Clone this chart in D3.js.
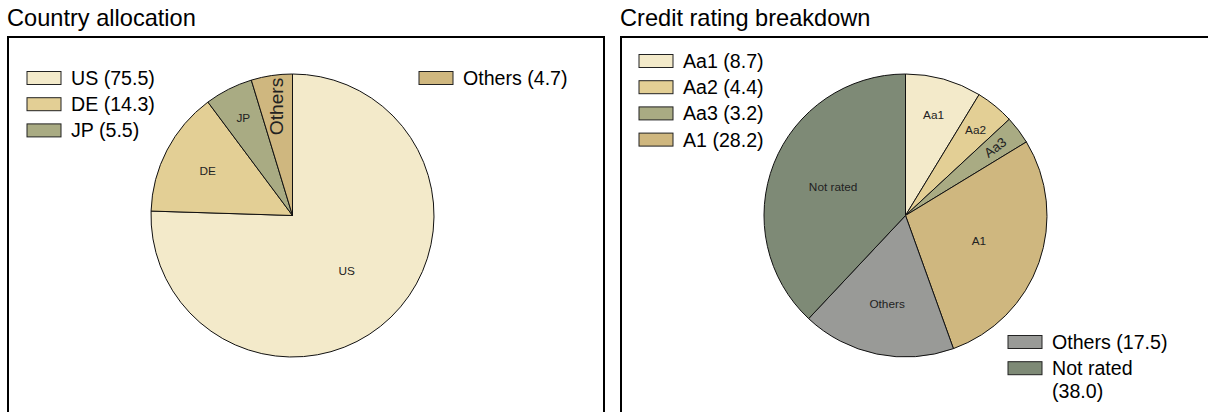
<!DOCTYPE html>
<html>
<head>
<meta charset="utf-8">
<script src="https://cdn.jsdelivr.net/npm/d3@7"></script>
<style>
  body { margin: 0; background: #fff; }
  svg { display: block; font-family: "Liberation Sans", Arial, sans-serif; }
</style>
</head>
<body>
<svg id="chart" width="1208" height="412"></svg>
<script>
// data
const countryLabels = ["US", "DE", "JP", "Others"]
const countryValues = [75.5, 14.3, 5.5, 4.7]
const countryColors = ["#F3EACA", "#E3CF95", "#A9AB83", "#CFB77F"]

const ratingLabels = ["Aa1", "Aa2", "Aa3", "A1", "Others", "Not rated"]
const ratingValues = [8.7, 4.4, 3.2, 28.2, 17.5, 38.0]
const ratingColors = ["#F3EACA", "#E3CF95", "#A9AB83", "#CFB77F", "#999A97", "#7E8A76"]

const panels = [
    {
        title: "Country allocation", x: 8, labels: countryLabels, values: countryValues, colors: countryColors,
        legends: [{ items: [0, 1, 2], x: 19, y: 41 }, { items: [3], x: 411, y: 41 }]
    },
    {
        title: "Credit rating breakdown", x: 621, labels: ratingLabels, values: ratingValues, colors: ratingColors,
        legends: [{ items: [0, 1, 2, 3], x: 18, y: 24 }, { items: [4, 5], x: 387, y: 305 }]
    }
]

const svg = d3.select("#chart")
const panelTop = 37
const radius = 141.5
const labelSize = 11.8
const legendSize = 19.6
const rowStep = 26.2

panels.forEach(p => {
    svg.append("text")
        .attr("x", p.x - 1)
        .attr("y", 26)
        .attr("font-size", 23.6)
        .attr("fill", "#000")
        .text(p.title)

    const g = svg.append("g").attr("transform", `translate(${p.x},${panelTop})`)

    g.append("rect")
        .attr("width", 596)
        .attr("height", 420)
        .attr("fill", "none")
        .attr("stroke", "#000")
        .attr("stroke-width", 2)

    const pie = d3.pie().sort(null).value(d => d.value)
    const arcs = pie(p.labels.map((l, i) => ({ label: l, value: p.values[i], color: p.colors[i] })))
    const arc = d3.arc().innerRadius(0).outerRadius(radius)

    const pieG = g.append("g").attr("transform", `translate(284.5,178.5)`)

    pieG.selectAll("path")
        .data(arcs)
        .join("path")
        .attr("d", arc)
        .attr("fill", d => d.data.color)
        .attr("stroke", "#111")
        .attr("stroke-width", 1)
        .attr("stroke-linejoin", "round")

    // slice labels: narrow slices get a radial label sized to the slice
    arcs.forEach(d => {
        const span = d.endAngle - d.startAngle
        const deg = span * 180 / Math.PI
        const mid = (d.startAngle + d.endAngle) / 2
        const dist = radius * Math.max(0.55, 0.83 - 0.003 * deg)
        const cx = dist * Math.sin(mid)
        const cy = -dist * Math.cos(mid)
        const chord = 2 * dist * Math.sin(span / 2)

        const t = pieG.append("text")
            .attr("text-anchor", "middle")
            .attr("dominant-baseline", "central")
            .attr("font-size", labelSize)
            .attr("fill", "#222")
            .text(d.data.label)

        const w = t.node().getComputedTextLength()
        if (w > chord * 0.85) {
            let rot = mid * 180 / Math.PI - 90
            if (rot > 180) rot -= 360
            rot = Math.max(-90, Math.min(90, rot))
            t.attr("font-size", chord * 0.59)
                .attr("transform", `translate(${cx},${cy}) rotate(${rot})`)
        } else {
            t.attr("transform", `translate(${cx},${cy})`)
        }
    })

    // legends
    p.legends.forEach(leg => {
        const lg = g.append("g").attr("transform", `translate(${leg.x},${leg.y})`)
        leg.items.forEach((idx, k) => {
            const y = k * rowStep
            lg.append("rect")
                .attr("x", 0)
                .attr("y", y - 6.5)
                .attr("width", 34)
                .attr("height", 13)
                .attr("fill", p.colors[idx])
                .attr("stroke", "#222")
                .attr("stroke-width", 1)

            const label = `${p.labels[idx]} (${p.values[idx].toFixed(1)})`
            const t = lg.append("text")
                .attr("x", 44)
                .attr("y", y)
                .attr("dominant-baseline", "central")
                .attr("font-size", legendSize)
                .attr("fill", "#000")
                .text(label)

            // wrap long entries onto a second line
            if (t.node().getComputedTextLength() > 125) {
                const words = label.split(" ")
                t.text(words.slice(0, -1).join(" "))
                lg.append("text")
                    .attr("x", 44)
                    .attr("y", y + 22.7)
                    .attr("dominant-baseline", "central")
                    .attr("font-size", legendSize)
                    .attr("fill", "#000")
                    .text(words[words.length - 1])
            }
        })
    })
})
</script>
</body>
</html>
